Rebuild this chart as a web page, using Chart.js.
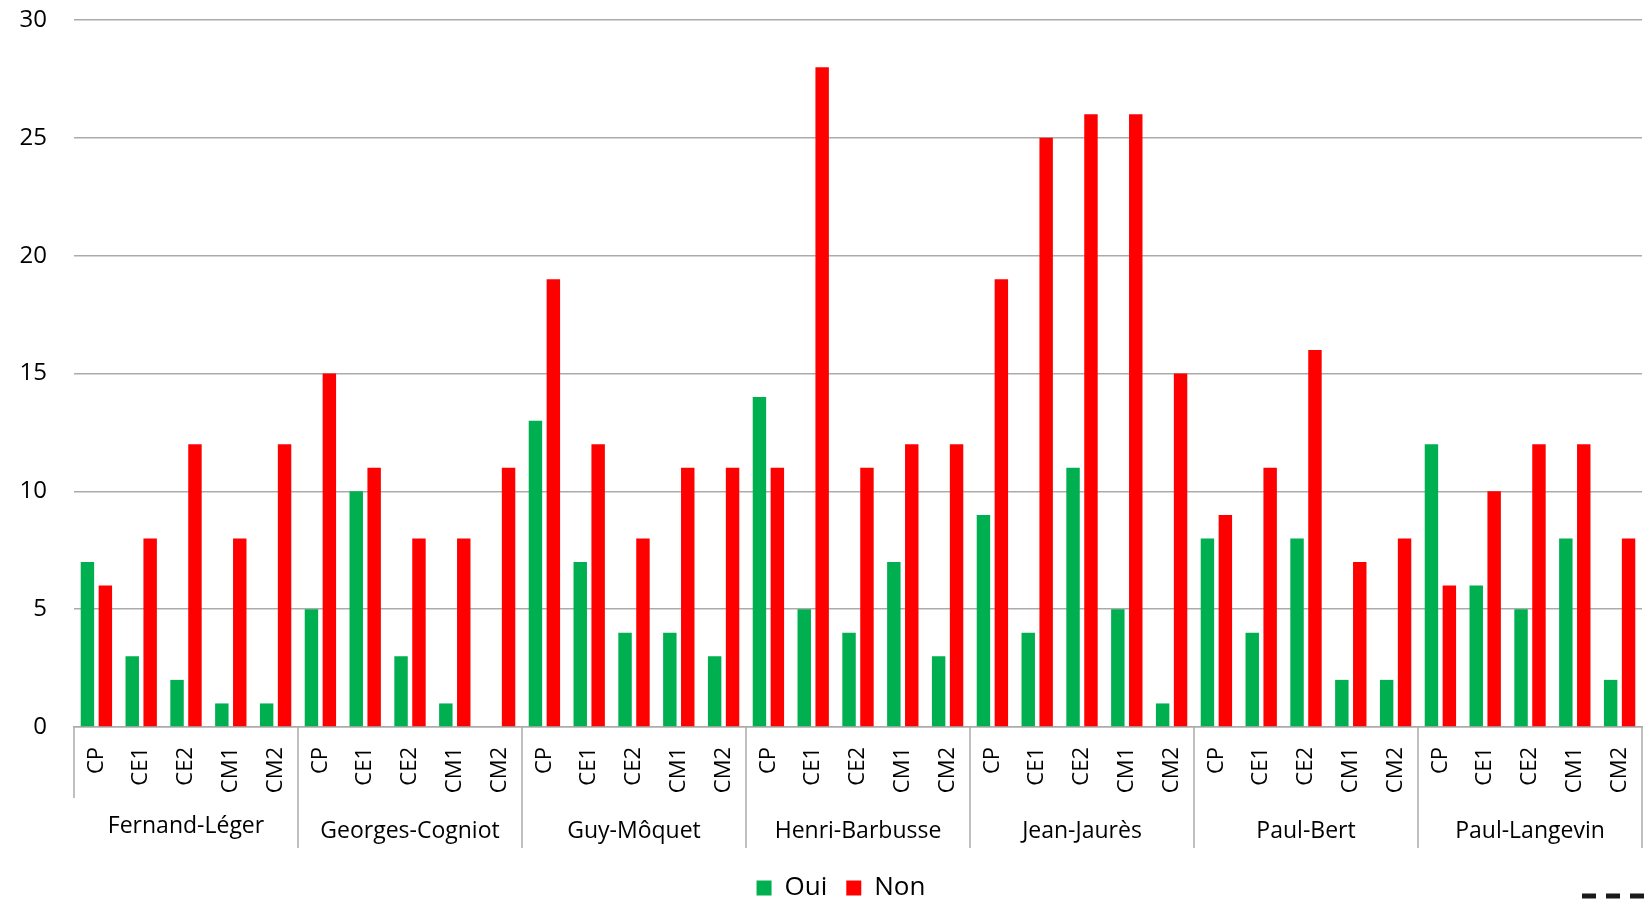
<!DOCTYPE html>
<html>
<head>
<meta charset="utf-8">
<script src="https://cdn.jsdelivr.net/npm/chart.js@4"></script>
<style>
	body { margin: 0; background: #fff; }
	.chart-box { width: 1650px; height: 899px; }
</style>
</head>
<body>
<div class="chart-box"><canvas id="ecoles-chart"></canvas></div>
<script>
const schools = ['Fernand-Léger', 'Georges-Cogniot', 'Guy-Môquet', 'Henri-Barbusse', 'Jean-Jaurès', 'Paul-Bert', 'Paul-Langevin'];
const levels = ['CP', 'CE1', 'CE2', 'CM1', 'CM2'];
const ouiValues = [7, 3, 2, 1, 1, 5, 10, 3, 1, 0, 13, 7, 4, 4, 3, 14, 5, 4, 7, 3, 9, 4, 11, 5, 1, 8, 4, 8, 2, 2, 12, 6, 5, 8, 2];
const nonValues = [6, 8, 12, 8, 12, 15, 11, 8, 8, 11, 19, 12, 8, 11, 11, 11, 28, 11, 12, 12, 19, 25, 26, 26, 15, 9, 11, 16, 7, 8, 6, 10, 12, 12, 8];
const yTicks = [0, 5, 10, 15, 20, 25, 30];

const labels = schools.flatMap(() => levels);
const font = 'Open Sans';
const gray = '#ababab';

// school names and separators under the level labels
const schoolGroups = {
	id: 'schoolGroups',
	afterLayout(chart) {
		// legend sits a bit right of the canvas centre and low in the original
		chart.legend.left += 20;
		chart.legend.right += 20;
		chart.legend.top += 12;
		chart.legend.bottom += 12;
	},
	afterDraw(chart) {
		const { ctx } = chart;
		const x = chart.scales.x;
		const bottom = chart.chartArea.bottom;
		const catW = x.width / labels.length;
		ctx.save();
		ctx.strokeStyle = gray;
		ctx.lineWidth = 1.5;
		for (let g = 0; g <= schools.length; g++) {
			const px = x.left + g * levels.length * catW;
			ctx.beginPath();
			ctx.moveTo(px, bottom);
			ctx.lineTo(px, bottom + (g === 0 ? 71 : 121));
			ctx.stroke();
		}
		ctx.fillStyle = '#000';
		ctx.font = '23px "' + font + '"';
		ctx.textAlign = 'center';
		ctx.textBaseline = 'middle';
		schools.forEach((name, g) => {
			const cx = x.left + (g + 0.5) * levels.length * catW;
			ctx.fillText(name, cx, bottom + (g === 0 ? 99 : 104));
		});
		// cropped dashed frame at the bottom right
		ctx.strokeStyle = '#1a1a1a';
		ctx.lineWidth = 5;
		ctx.setLineDash([14, 10]);
		ctx.beginPath();
		ctx.moveTo(1582, 896);
		ctx.lineTo(1650, 896);
		ctx.stroke();
		ctx.restore();
	},
};

new Chart(document.getElementById('ecoles-chart'), {
	type: 'bar',
	data: {
		labels: labels,
		datasets: [
			{
				label: 'Oui',
				data: ouiValues,
				backgroundColor: '#00b050',
				categoryPercentage: 0.8,
				barPercentage: 0.75,
			},
			{
				label: 'Non',
				data: nonValues,
				backgroundColor: '#ff0000',
				categoryPercentage: 0.8,
				barPercentage: 0.75,
			},
		],
	},
	options: {
		responsive: true,
		maintainAspectRatio: false,
		animation: false,
		layout: {
			padding: { top: 20, right: 8, bottom: 0, left: 0 },
		},
		plugins: {
			tooltip: { enabled: false },
			legend: {
				position: 'bottom',
				labels: {
					font: { family: font, size: 26 },
					color: '#000',
					boxWidth: 15,
					boxHeight: 15,
					padding: 19,
				},
			},
		},
		scales: {
			x: {
				grid: { display: false, drawTicks: false },
				border: { display: true, color: gray, width: 1.5 },
				ticks: {
					autoSkip: false,
					maxRotation: 90,
					minRotation: 90,
					padding: 20,
					color: '#000',
					font: { family: font, size: 22 },
				},
				afterFit: (scale) => {
					scale.height = 117;
					scale.paddingLeft = 0;
					scale.paddingRight = 0;
				},
			},
			y: {
				min: yTicks[0],
				max: yTicks[yTicks.length - 1],
				grid: { color: gray, lineWidth: 1.5, drawTicks: false },
				border: { display: false },
				ticks: {
					padding: 27,
					color: '#000',
					font: { family: font, size: 24 },
				},
				afterBuildTicks: (scale) => {
					scale.ticks = yTicks.map((v) => ({ value: v }));
				},
				afterFit: (scale) => {
					scale.width = 74;
					scale.paddingTop = 0;
					scale.paddingBottom = 0;
				},
			},
		},
	},
	plugins: [schoolGroups],
});
</script>
</body>
</html>
